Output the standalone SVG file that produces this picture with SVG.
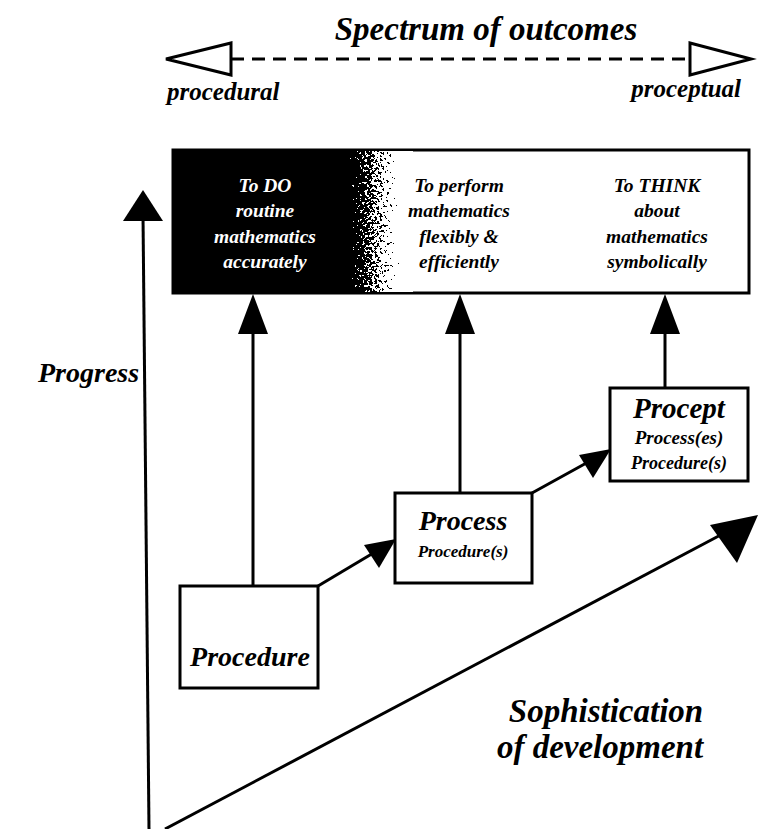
<svg xmlns="http://www.w3.org/2000/svg" width="761" height="829" viewBox="0 0 761 829">
<style>
.t{font-family:"Liberation Serif","Times New Roman",serif;font-style:italic;font-weight:bold;fill:#000}
.w{fill:#fff}
.box{fill:#fff;stroke:#000;stroke-width:3}
.ln{stroke:#000;stroke-width:3;fill:none}
</style>
<defs>
<linearGradient id="g" x1="0" x2="1" y1="0" y2="0">
<stop offset="0" stop-color="#000"/>
<stop offset="0.1" stop-color="#333"/>
<stop offset="0.85" stop-color="#eee"/>
<stop offset="1" stop-color="#fff"/>
</linearGradient>
<filter id="dither" x="0" y="0" width="1" height="1" color-interpolation-filters="sRGB">
<feTurbulence type="fractalNoise" baseFrequency="0.4" numOctaves="2" seed="7" result="n"/>
<feColorMatrix in="n" type="matrix" values="1 0 0 0 0 1 0 0 0 0 1 0 0 0 0 0 0 0 0 1" result="ng"/>
<feComposite in="SourceGraphic" in2="ng" operator="arithmetic" k1="0" k2="1" k3="1.3" k4="-0.65" result="s"/>
<feComponentTransfer in="s">
<feFuncR type="discrete" tableValues="0 1"/>
<feFuncG type="discrete" tableValues="0 1"/>
<feFuncB type="discrete" tableValues="0 1"/>
</feComponentTransfer>
</filter>
</defs>

<g id="spectrum">
<text class="t" x="486" y="40" font-size="33" text-anchor="middle">Spectrum of outcomes</text>
<line x1="231" y1="59" x2="690" y2="59" stroke="#000" stroke-width="3" stroke-dasharray="13,8"/>
<polygon points="166,59 231,43 231,75" fill="#fff" stroke="#000" stroke-width="3"/>
<polygon points="751,59 690,43 690,75" fill="#fff" stroke="#000" stroke-width="3"/>
<text class="t" x="167" y="100" font-size="25">procedural</text>
<text class="t" x="741" y="97" font-size="25" text-anchor="end">proceptual</text>
</g>

<g id="outcomes">
<rect x="173" y="150" width="576" height="143" class="box"/>
<rect x="173" y="150" width="176" height="143" fill="#000"/>
<rect x="347" y="151" width="66" height="141" fill="url(#g)" filter="url(#dither)"/>
<g font-size="19.5" text-anchor="middle">
<text class="t w" x="265" y="192">To DO</text>
<text class="t w" x="265" y="217">routine</text>
<text class="t w" x="265" y="243">mathematics</text>
<text class="t w" x="265" y="268">accurately</text>
<text class="t" x="459" y="192">To perform</text>
<text class="t" x="459" y="217">mathematics</text>
<text class="t" x="459" y="243">flexibly &amp;</text>
<text class="t" x="459" y="268">efficiently</text>
<text class="t" x="657" y="192">To THINK</text>
<text class="t" x="657" y="217">about</text>
<text class="t" x="657" y="243">mathematics</text>
<text class="t" x="657" y="268">symbolically</text>
</g>
</g>

<g id="connectors">
<line x1="253" y1="586" x2="253" y2="320" class="ln"/>
<polygon points="253,294 238,334 268,334" fill="#000"/>
<line x1="460" y1="493" x2="460" y2="320" class="ln"/>
<polygon points="460,294 445,334 475,334" fill="#000"/>
<line x1="665" y1="388" x2="665" y2="320" class="ln"/>
<polygon points="665,294 650,334 680,334" fill="#000"/>
<line x1="318" y1="586" x2="375" y2="552" class="ln"/>
<polygon points="396,539 364,545 379,568" fill="#000"/>
<line x1="532" y1="493" x2="590" y2="461" class="ln"/>
<polygon points="611,449 579,455 593,478" fill="#000"/>
</g>

<g id="procedure">
<rect x="180" y="586" width="138" height="102" class="box"/>
<text class="t" x="250" y="666" font-size="28" text-anchor="middle">Procedure</text>
</g>

<g id="process">
<rect x="395" y="493" width="137" height="90" class="box"/>
<text class="t" x="463" y="530" font-size="28" text-anchor="middle">Process</text>
<text class="t" x="463" y="557" font-size="17" text-anchor="middle">Procedure(s)</text>
</g>

<g id="procept">
<rect x="610" y="388" width="138" height="93" class="box"/>
<text class="t" x="679" y="418" font-size="29" text-anchor="middle">Procept</text>
<text class="t" x="679" y="444" font-size="19" text-anchor="middle">Process(es)</text>
<text class="t" x="679" y="469" font-size="18" text-anchor="middle">Procedure(s)</text>
</g>

<g id="progress">
<line x1="149" y1="829" x2="143" y2="215" class="ln"/>
<polygon points="143,190 123,221 163,221" fill="#000"/>
<text class="t" x="38" y="382" font-size="28">Progress</text>
</g>

<g id="sophistication">
<line x1="165" y1="829" x2="730" y2="530" class="ln"/>
<polygon points="758,515 710,525 737,563" fill="#000"/>
<text class="t" x="606" y="722" font-size="33" text-anchor="middle">Sophistication</text>
<text class="t" x="600" y="758" font-size="33" text-anchor="middle">of development</text>
</g>
</svg>
